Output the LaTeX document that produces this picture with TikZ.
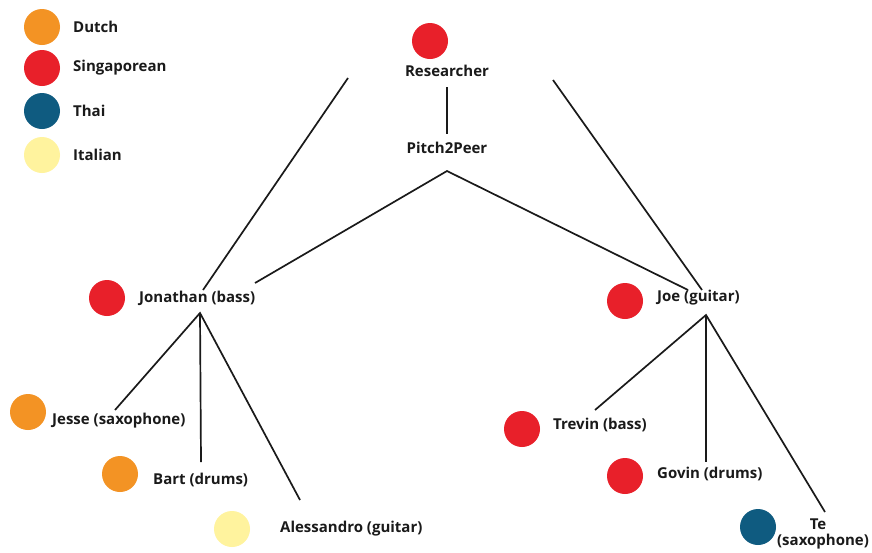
\documentclass[tikz,border=0pt]{standalone}
\usepackage{fontspec}
\setmainfont{Open Sans}
\definecolor{dutch}{HTML}{F39324}
\definecolor{singapore}{HTML}{E8202A}
\definecolor{thai}{HTML}{0F5B80}
\definecolor{italian}{HTML}{FFF39E}
\definecolor{ink}{HTML}{1A1A1A}
\begin{document}
\begin{tikzpicture}[x=1pt,y=-1pt,
  dot/.style={circle,inner sep=0pt,minimum size=36pt},
  lbl/.style={anchor=west,inner sep=0pt,font=\fontsize{15}{18}\selectfont\bfseries,text=ink},
  clbl/.style={anchor=center,inner sep=0pt,font=\fontsize{15}{18}\selectfont\bfseries,text=ink},
  link/.style={draw=ink,line width=1.7pt}]
\useasboundingbox (0,0) rectangle (872,552);
\fill[white] (0,0) rectangle (872,552);

% legend
\node[dot,fill=dutch]     (kd) at (42,27)  {};
\node[dot,fill=singapore] (ks) at (42,68)  {};
\node[dot,fill=thai]      (kt) at (42,111) {};
\node[dot,fill=italian]   (ki) at (42,155) {};
\node[lbl] (kdl) at (73,27)  {Dutch};
\node[lbl] (ksl) at (73,68)  {Singaporean};
\node[lbl] (ktl) at (73,111) {Thai};
\node[lbl] (kil) at (73,155) {Italian};

% top of the tree
\node[dot,fill=singapore] (res) at (430,41) {};
\node[clbl] (resl) at (447,71) {Researcher};
\node[clbl] (p2p) at (447,148) {Pitch2Peer};

% band leaders
\node[dot,fill=singapore] (jon) at (107,298) {};
\node[lbl] (jonl) at (139,298) {Jonathan (bass)};
\node[dot,fill=singapore] (joe) at (625,301) {};
\node[lbl] (joel) at (657,298) {Joe (guitar)};

% Jonathan's band
\node[dot,fill=dutch]   (jes) at (28,412)  {};
\node[lbl] (jesl) at (52,421) {Jesse (saxophone)};
\node[dot,fill=dutch]   (bar) at (120,474) {};
\node[lbl] (barl) at (153,480) {Bart (drums)};
\node[dot,fill=italian] (ale) at (232,529) {};
\node[lbl] (alel) at (280,529) {Alessandro (guitar)};

% Joe's band
\node[dot,fill=singapore] (tre) at (522,429) {};
\node[lbl] (trel) at (553,425) {Trevin (bass)};
\node[dot,fill=singapore] (gov) at (625,476) {};
\node[lbl] (govl) at (657,474) {Govin (drums)};
\node[dot,fill=thai] (te) at (758,527) {};
\node[clbl] (tel) at (818,524) {Te};
\node[clbl] (tel2) at (823,542) {(saxophone)};

% connector end points
\coordinate (resbot) at (447,87);
\coordinate (p2ptop) at (447,134);
\coordinate (p2phub) at (447,171);
\coordinate (lefttop) at (348,78);
\coordinate (righttop) at (553,80);
\coordinate (jonin) at (203,290);
\coordinate (jonside) at (255,283);
\coordinate (joein) at (702,290);
\coordinate (joeside) at (688,290);
\coordinate (jonhub) at (200,313);
\coordinate (joehub) at (706,315);
\coordinate (jesend) at (115,410);
\coordinate (barend) at (201,462);
\coordinate (aleend) at (300,500);
\coordinate (treend) at (595,410);
\coordinate (govend) at (706,462);
\coordinate (teend) at (825,512);

% connectors
\draw[link] (resbot) -- (p2ptop);
\draw[link] (jonside) -- (p2phub) -- (joeside);
\draw[link] (lefttop) -- (jonin);
\draw[link] (righttop) -- (joein);
\draw[link] (jesend) -- (jonhub) -- (aleend);
\draw[link] (jonhub) -- (barend);
\draw[link] (treend) -- (joehub) -- (teend);
\draw[link] (joehub) -- (govend);
\end{tikzpicture}
\end{document}
